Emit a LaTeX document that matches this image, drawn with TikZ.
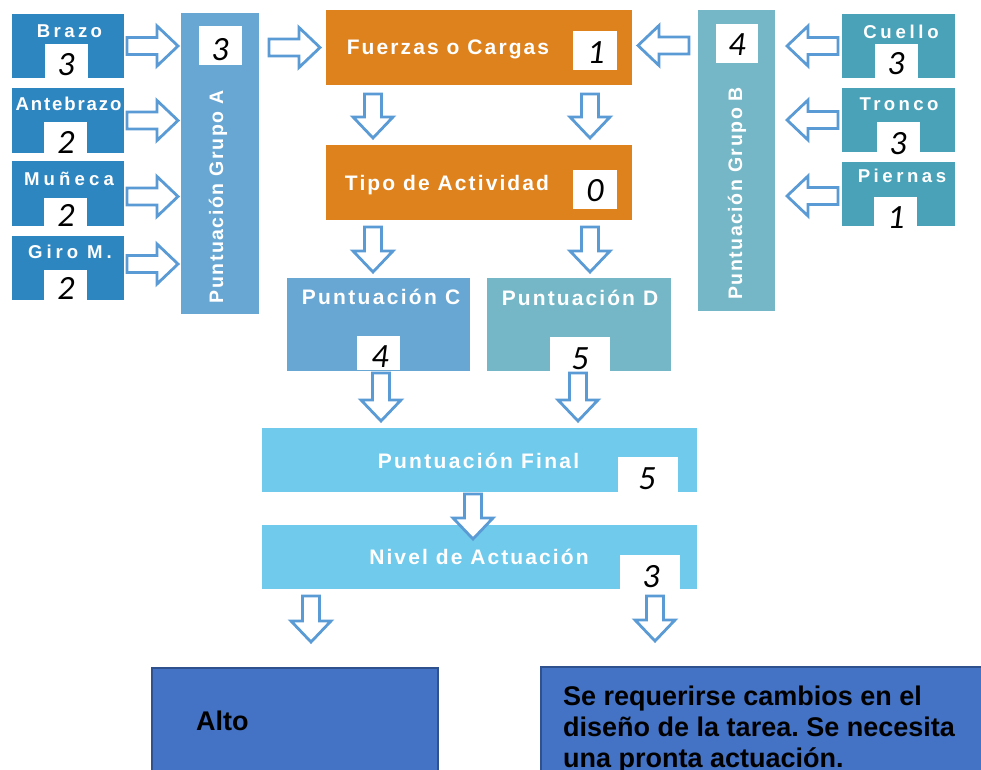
\documentclass[tikz,border=0pt]{standalone}
\usepackage{fontspec}
\setmainfont{Liberation Sans}
\newfontfamily\hdr{Liberation Sans Bold}
\newfontfamily\dig{Carlito}
\newfontfamily\botf{Liberation Sans Bold}
\usetikzlibrary{calc}
\definecolor{cA}{RGB}{46,134,193}
\definecolor{cGA}{RGB}{104,167,211}
\definecolor{cOr}{RGB}{222,130,30}
\definecolor{cTe}{RGB}{117,183,198}
\definecolor{cRt}{RGB}{73,162,184}
\definecolor{cF}{RGB}{112,202,236}
\definecolor{arrowc}{RGB}{91,155,213}
\definecolor{cBot}{RGB}{68,114,196}
\definecolor{cBotB}{RGB}{47,82,143}
\tikzset{
  agapA/.store in=\agapA, agapB/.store in=\agapB, agapA=3, agapB=3,
  barrow/.style={draw=arrowc, line width=2.8pt, fill=white, line join=miter,
    to path={let \p1=(\tikztostart), \p2=(\tikztotarget),
      \n1={atan2(\y2-\y1,\x2-\x1)}, \n2={veclen(\x2-\x1,\y2-\y1)},
      \n3={\agapA}, \n4={\n2-\agapB}, \n5={\n2-\agapB-21},
      \n6={cos(\n1)}, \n7={sin(\n1)} in
      ({\x1+\n3*\n6-8.5*\n7},{\y1+\n3*\n7+8.5*\n6})
      -- ({\x1+\n5*\n6-8.5*\n7},{\y1+\n5*\n7+8.5*\n6})
      -- ({\x1+\n5*\n6-20*\n7},{\y1+\n5*\n7+20*\n6})
      -- ({\x1+\n4*\n6},{\y1+\n4*\n7})
      -- ({\x1+\n5*\n6+20*\n7},{\y1+\n5*\n7-20*\n6})
      -- ({\x1+\n5*\n6+8.5*\n7},{\y1+\n5*\n7-8.5*\n6})
      -- ({\x1+\n3*\n6+8.5*\n7},{\y1+\n3*\n7-8.5*\n6})
      -- cycle}},
  blk/.style={rectangle, inner sep=0pt, outer sep=0pt, draw=none},
  wbox/.style={rectangle, inner sep=0pt, outer sep=0pt, fill=white},
  hd/.style 2 args={text=white, inner sep=0pt, anchor=base,
    font=\hdr\fontsize{#1}{#1}\selectfont\addfontfeature{LetterSpace=#2}},
  num/.style={inner sep=0pt, font=\dig\itshape\fontsize{34}{34}\selectfont},
  botbox/.style={rectangle, inner sep=0pt, outer sep=0pt, fill=cBot, draw=cBotB, line width=2pt},
  bottxt/.style={inner sep=0pt, font=\botf\fontsize{27}{31}\selectfont\frenchspacing}
}
\begin{document}
\begin{tikzpicture}[x=1pt,y=-1pt]
\useasboundingbox (0,0) rectangle (981,769);
\clip (0,0) rectangle (981,769);
% left group
\node[blk, fill=cA, minimum width=112pt, minimum height=64pt] (brazo) at (68,46) {};
\node[blk, fill=cA, minimum width=112pt, minimum height=65pt] (ante) at (68,120.5) {};
\node[blk, fill=cA, minimum width=112pt, minimum height=65pt] (mun) at (68,193.5) {};
\node[blk, fill=cA, minimum width=112pt, minimum height=64pt] (giro) at (68,268) {};
\node[blk, fill=cGA, minimum width=78pt, minimum height=301pt] (gA) at (220,163.5) {};
% center
\node[blk, fill=cOr, minimum width=306pt, minimum height=75pt] (fz) at (479,47.5) {};
\node[blk, fill=cOr, minimum width=306pt, minimum height=75pt] (tipo) at (479,182.5) {};
\node[blk, fill=cGA, minimum width=183pt, minimum height=93pt] (pc) at (378.5,324.5) {};
\node[blk, fill=cTe, minimum width=184pt, minimum height=93pt] (pd) at (579,324.5) {};
% right group
\node[blk, fill=cTe, minimum width=77pt, minimum height=301pt] (gB) at (736.5,160.5) {};
\node[blk, fill=cRt, minimum width=113pt, minimum height=64pt] (cuello) at (898.5,46) {};
\node[blk, fill=cRt, minimum width=113pt, minimum height=64pt] (tronco) at (898.5,120) {};
\node[blk, fill=cRt, minimum width=113pt, minimum height=64pt] (piernas) at (898.5,194) {};
% final
\node[blk, fill=cF, minimum width=435pt, minimum height=64pt] (fin) at (479.5,460) {};
\node[blk, fill=cF, minimum width=435pt, minimum height=64pt] (niv) at (479.5,557) {};
% bottom
\node[botbox, minimum width=286pt, minimum height=132pt] (alto) at (295,734) {};
\node[botbox, minimum width=459pt, minimum height=133pt] (req) at (770.5,733.5) {};

% white boxes
\node[wbox, minimum width=43pt, minimum height=34pt] (wbrazo) at (66.5,60.5) {};
\node[wbox, minimum width=43pt, minimum height=31pt] (wante) at (65.5,137.5) {};
\node[wbox, minimum width=43pt, minimum height=29pt] (wmun) at (65.5,212.5) {};
\node[wbox, minimum width=43pt, minimum height=31pt] (wgiro) at (65.5,285.5) {};
\node[wbox, minimum width=43pt, minimum height=39pt] (wgA) at (220.5,45.5) {};
\node[wbox, minimum width=44pt, minimum height=39pt] (wfz) at (595,50.5) {};
\node[wbox, minimum width=44pt, minimum height=39pt] (wtipo) at (594.5,189.5) {};
\node[wbox, minimum width=43pt, minimum height=34pt] (wpc) at (378,353) {};
\node[wbox, minimum width=60pt, minimum height=34pt] (wpd) at (580,354) {};
\node[wbox, minimum width=42pt, minimum height=39pt] (wgB) at (737,43.5) {};
\node[wbox, minimum width=43pt, minimum height=34pt] (wcuello) at (896.5,60.5) {};
\node[wbox, minimum width=43pt, minimum height=31pt] (wtronco) at (898.5,137.5) {};
\node[wbox, minimum width=43pt, minimum height=30pt] (wpiernas) at (895.5,212) {};
\node[wbox, minimum width=60pt, minimum height=35pt] (wfin) at (648,474.5) {};
\node[wbox, minimum width=60pt, minimum height=34pt] (wniv) at (650,572) {};

% labels
\node[hd={18.6}{18}] (tbrazo) at (69.5,37) {Brazo};
\node[hd={18.6}{10}] (tante) at (68.5,110) {Antebrazo};
\node[hd={18.6}{22}] (tmun) at (69,185) {Muñeca};
\node[hd={18.6}{21}] (tgiro) at (70,258) {Giro M.};
\node[hd={19.5}{8}, rotate=90] (tgA) at (223,197) {Puntuación Grupo A};
\node[hd={21}{10}] (tfz) at (448,54) {Fuerzas o Cargas};
\node[hd={21}{10}] (ttipo) at (447,190) {Tipo de Actividad};
\node[hd={21}{11}] (tpc) at (381,304) {Puntuación C};
\node[hd={21}{10}] (tpd) at (580,305) {Puntuación D};
\node[hd={19.5}{8}, rotate=90] (tgB) at (742,193.5) {Puntuación Grupo B};
\node[hd={18.6}{20}] (tcuello) at (901,38) {Cuello};
\node[hd={18.6}{18}] (ttronco) at (899,110) {Tronco};
\node[hd={18.6}{19}] (tpiernas) at (902,182) {Piernas};
\node[hd={21}{11}] (tfin) at (478.5,468) {Puntuación Final};
\node[hd={21}{10}] (tniv) at (479,564) {Nivel de Actuación};

% numbers
\node[num] (nbrazo) at (66,65) {3};
\node[num] (nante) at (66,142) {2};
\node[num] (nmun) at (66,215) {2};
\node[num] (ngiro) at (66,288) {2};
\node[num] (ngA) at (220,50) {3};
\node[num] (nfz) at (596,53) {1};
\node[num] (ntipo) at (595,191) {0};
\node[num] (npc) at (380,357) {4};
\node[num] (npd) at (580,359) {5};
\node[num] (ngB) at (737,45) {4};
\node[num] (ncuello) at (896,64) {3};
\node[num] (ntronco) at (898,144) {3};
\node[num] (npiernas) at (896,218) {1};
\node[num] (nfin) at (647,479) {5};
\node[num] (nniv) at (651,577) {3};

% bottom texts
\node[bottxt, anchor=base west] (talto) at (196,730) {Alto};
\node[bottxt, anchor=north west, align=left] (treq) at (563,686) {Se requerirse cambios en el\\diseño de la tarea. Se necesita\\una pronta actuación.};

% column coordinates
\coordinate (cL) at (373,0);
\coordinate (cR) at (590,0);
\coordinate (cC) at (381,0);
\coordinate (cD) at (578,0);
\coordinate (cM) at (473,0);
\coordinate (cAl) at (311,0);
\coordinate (cRq) at (655,0);

% arrows left group
\draw[barrow] (brazo.east) to (brazo.east -| gA.west);
\draw[barrow] (ante.east) to (ante.east -| gA.west);
\draw[barrow] ($(mun.east)+(0,3)$) to ($(mun.east -| gA.west)+(0,3)$);
\draw[barrow] ($(giro.east)+(0,-4)$) to ($(giro.east -| gA.west)+(0,-4)$);
\draw[barrow, agapA=10, agapB=6] (fz.west -| gA.east) to (fz.west);
% arrows right group
\draw[barrow, agapA=9, agapB=6] ($(fz.east -| gB.west)+(0,-2)$) to ($(fz.east)+(0,-2)$);
\draw[barrow, agapA=4, agapB=12] (cuello.west) to (cuello.west -| gB.east);
\draw[barrow, agapA=4, agapB=12] (tronco.west) to (tronco.west -| gB.east);
\draw[barrow, agapA=4, agapB=12] ($(piernas.west)+(0,2)$) to ($(piernas.west -| gB.east)+(0,2)$);
% vertical arrows
\draw[barrow, agapA=9, agapB=7] (fz.south -| cL) to (tipo.north -| cL);
\draw[barrow, agapA=9, agapB=7] (fz.south -| cR) to (tipo.north -| cR);
\draw[barrow, agapA=7, agapB=6] (tipo.south -| cL) to (pc.north -| cL);
\draw[barrow, agapA=7, agapB=6] (tipo.south -| cR) to (pd.north -| cR);
\draw[barrow, agapA=2, agapB=7] (pc.south -| cC) to (fin.north -| cC);
\draw[barrow, agapA=2, agapB=7] (pd.south -| cD) to (fin.north -| cD);
\draw[barrow, agapA=2, agapB=-14] (fin.south -| cM) to (niv.north -| cM);
\draw[barrow, agapA=7, agapB=26] (niv.south -| cAl) to (alto.north -| cAl);
\draw[barrow, agapA=7, agapB=26] (niv.south -| cRq) to (req.north -| cRq);
\end{tikzpicture}
\end{document}
